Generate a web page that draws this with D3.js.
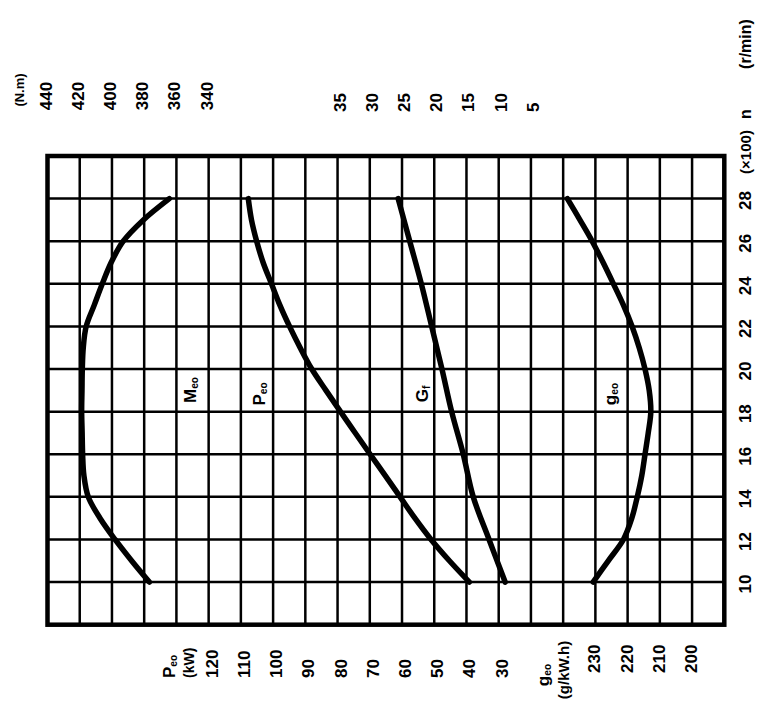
<!DOCTYPE html>
<html>
<head>
<meta charset="utf-8">
<script src="https://cdn.jsdelivr.net/npm/d3@7"></script>
<style>
  body { margin: 0; background: #fff; }
  text { font-family: "Liberation Sans", Arial, sans-serif; font-weight: bold; fill: #000; }
</style>
</head>
<body>
<svg id="chart" width="757" height="721"></svg>
<script>
// ---- data ----
const speedN = [10, 11, 12, 13, 14, 15, 16, 17, 18, 19, 20, 21, 22, 23, 24, 25, 26, 27, 28]; // ×100 r/min
const torqueMe = [376.8, 387.8, 398.1, 407.4, 414.7, 417.4, 418.2, 418.5, 418.8, 418.6, 418.4, 417.8, 416.0, 411.0, 406.0, 400.5, 393.0, 380.5, 364.4]; // N.m
const powerPe = [39.1, 45.3, 51.0, 56.0, 60.6, 65.2, 69.9, 74.5, 79.1, 83.6, 88.0, 91.6, 94.9, 97.9, 100.5, 103.1, 105.1, 106.7, 107.7]; // kW
const specGe = [230.7, 226.0, 221.3, 218.7, 217.0, 215.6, 214.6, 213.6, 212.8, 213.3, 214.6, 216.4, 218.6, 221.3, 224.4, 227.6, 231.0, 234.8, 238.7]; // g/kW.h
const fuelN = [10, 12, 14, 16, 18, 20, 22, 24, 26, 28];
const fuelGf = [9.0, 11.5, 13.95, 15.5, 17.3, 18.8, 20.4, 22.0, 23.8, 25.6]; // kg/h

const nTicks = [10, 12, 14, 16, 18, 20, 22, 24, 26, 28];
const torqueTicks = [440, 420, 400, 380, 360, 340];
const gfTicks = [35, 30, 25, 20, 15, 10, 5];
const peTicks = [120, 110, 100, 90, 80, 70, 60, 50, 40, 30];
const geTicks = [230, 220, 210, 200];

// ---- scales ----
const svg = d3.select("#chart");
const nScale = d3.scaleLinear().domain([8, 30]).range([624.7, 156]);
const col = d3.scaleLinear().domain([0, 21]).range([47.5, 724.3]);
const tScale = d3.scaleLinear().domain([440, 340]).range([col(0), col(5)]);
const pScale = d3.scaleLinear().domain([120, 30]).range([col(5), col(14)]);
const gfScale = d3.scaleLinear().domain([35, 5]).range([col(9), col(15)]);
const geScale = d3.scaleLinear().domain([230, 200]).range([col(17), col(20)]);

// ---- grid ----
const grid = svg.append("g").attr("stroke", "#000").attr("stroke-width", 2.5);
grid.selectAll("line.v").data(d3.range(1, 21)).join("line")
  .attr("x1", d => col(d)).attr("x2", d => col(d))
  .attr("y1", nScale(30)).attr("y2", nScale(8));
grid.selectAll("line.h").data(nTicks).join("line")
  .attr("x1", col(0)).attr("x2", col(21))
  .attr("y1", d => nScale(d)).attr("y2", d => nScale(d));
svg.append("rect")
  .attr("x", col(0)).attr("y", nScale(30))
  .attr("width", col(21) - col(0)).attr("height", nScale(8) - nScale(30))
  .attr("fill", "none").attr("stroke", "#000").attr("stroke-width", 4.5);

// ---- curves ----
function drawCurve(ns, vals, xs) {
  const line = d3.line().x(d => xs(d[1])).y(d => nScale(d[0])).curve(d3.curveCatmullRom.alpha(0.5));
  svg.append("path").datum(ns.map((n, i) => [n, vals[i]]))
    .attr("d", line).attr("fill", "none").attr("stroke", "#000")
    .attr("stroke-width", 5.5).attr("stroke-linecap", "round").attr("stroke-linejoin", "round");
}
drawCurve(speedN, torqueMe, tScale);
drawCurve(speedN, powerPe, pScale);
drawCurve(fuelN, fuelGf, gfScale);
drawCurve(speedN, specGe, geScale);

// ---- text helper (rotated -90) ----
function rtext(x, y, anchor, size, parts) {
  const t = svg.append("text")
    .attr("transform", `translate(${x},${y}) rotate(-90)`)
    .attr("text-anchor", anchor).attr("dominant-baseline", "central")
    .attr("font-size", size);
  parts.forEach(p => {
    const ts = t.append("tspan").text(p.t);
    if (p.sub) ts.attr("font-size", size * 0.6).attr("dy", size * 0.25);
  });
  return t;
}

// torque ticks (top)
torqueTicks.forEach(v => rtext(tScale(v) - 2, 96, "middle", 17, [{ t: String(v) }]));
rtext(19, 90, "middle", 13, [{ t: "(N.m)" }]);
// Gf ticks (top)
gfTicks.forEach(v => rtext(gfScale(v) + 2, 112, "start", 17, [{ t: String(v) }]));
// Pe ticks (bottom)
peTicks.forEach(v => rtext(pScale(v) + 3, 678, "start", 17, [{ t: String(v) }]));
rtext(169, 678, "start", 17, [{ t: "P" }, { t: "eo", sub: true }]);
rtext(189, 678, "start", 14, [{ t: "(kW)" }]);
// ge ticks (bottom)
geTicks.forEach(v => rtext(geScale(v) - 1, 673, "start", 17, [{ t: String(v) }]));
rtext(543, 675, "middle", 17, [{ t: "g" }, { t: "eo", sub: true }]);
rtext(563, 670, "middle", 15, [{ t: "(g/kW.h)" }]);
// n ticks (right)
nTicks.forEach(v => rtext(745, nScale(v) + 2, "middle", 17, [{ t: String(v) }]));
rtext(745, 152, "middle", 15, [{ t: "(×100)" }]);
rtext(745, 114, "middle", 16, [{ t: "n" }]);
rtext(745, 44, "middle", 16, [{ t: "(r/min)" }]);

// curve labels
rtext(190, 390, "middle", 17, [{ t: "M" }, { t: "eo", sub: true }]);
rtext(259, 394, "middle", 17, [{ t: "P" }, { t: "eo", sub: true }]);
rtext(422, 394, "middle", 17, [{ t: "G" }, { t: "f", sub: true }]);
rtext(610, 394, "middle", 17, [{ t: "g" }, { t: "eo", sub: true }]);
</script>
</body>
</html>
